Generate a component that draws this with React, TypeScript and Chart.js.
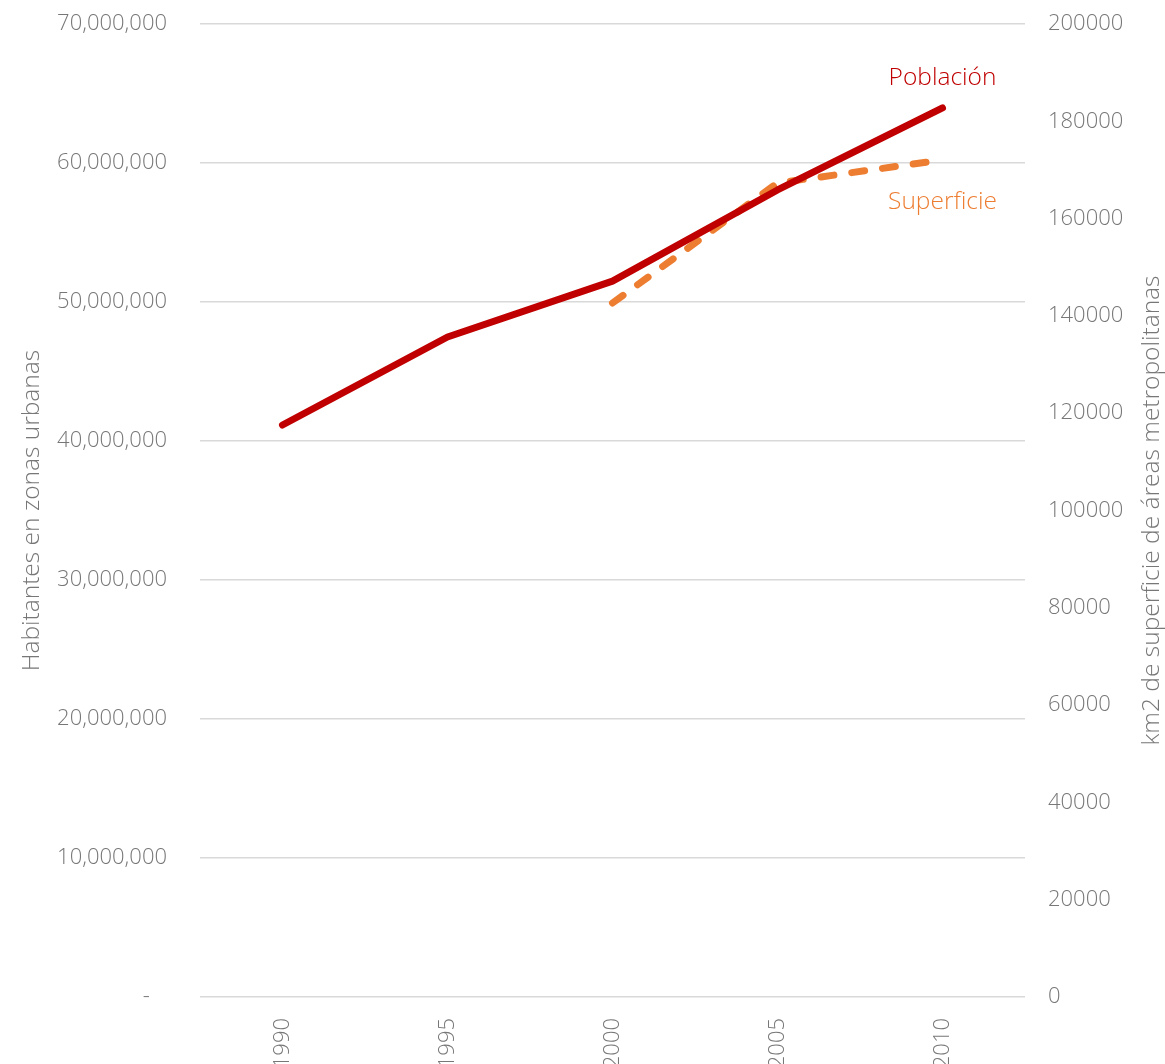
import React, { useEffect, useRef } from "react";
import { Chart, registerables } from "chart.js";

Chart.register(...registerables);

const years = ["1990", "1995", "2000", "2005", "2010"];
const poblacion = [41150000, 47480000, 51500000, 58060000, 63960000];
const superficie = [null, null, 142650, 167320, 172050];

const leftTitle = "Habitantes en zonas urbanas";
const rightTitle = "km2 de superficie de áreas metropolitanas";
const poblacionLabel = "Población";
const superficieLabel = "Superficie";

const FONT = "'Open Sans', 'Noto Sans', sans-serif";
const GRAY = "#777777";
const RED = "#C00000";
const ORANGE = "#ED7D31";

const labelsPlugin = {
  id: "customLabels",
  afterDraw(chart: any) {
    const ctx = chart.ctx;
    const area = chart.chartArea;
    const midY = (area.top + area.bottom) / 2;
    ctx.save();
    ctx.fillStyle = GRAY;
    ctx.font = `300 24.5px ${FONT}`;
    ctx.textAlign = "center";
    ctx.textBaseline = "middle";
    ctx.save();
    ctx.translate(32, midY);
    ctx.rotate(-Math.PI / 2);
    ctx.fillText(leftTitle, 0, 0);
    ctx.restore();
    ctx.save();
    ctx.translate(1152, midY);
    ctx.rotate(-Math.PI / 2);
    ctx.fillText(rightTitle, 0, 0);
    ctx.restore();

    const m0 = chart.getDatasetMeta(0);
    const m1 = chart.getDatasetMeta(1);
    const p0 = m0.data[m0.data.length - 1];
    const p1 = m1.data[m1.data.length - 1];
    ctx.font = `300 24.5px ${FONT}`;
    ctx.fillStyle = RED;
    ctx.fillText(poblacionLabel, p0.x, p0.y - 30);
    ctx.fillStyle = ORANGE;
    ctx.fillText(superficieLabel, p1.x, p1.y + 42);
    ctx.restore();
  },
};

export default function App() {
  const ref = useRef<HTMLCanvasElement>(null);
  useEffect(() => {
    document.body.style.margin = "0";
    const tickFont = { family: FONT, size: 22, weight: "300" as any };
    const chart = new Chart(ref.current as HTMLCanvasElement, {
      type: "line",
      data: {
        labels: years,
        datasets: [
          {
            label: poblacionLabel,
            data: poblacion,
            borderColor: RED,
            backgroundColor: RED,
            borderWidth: 7,
            pointRadius: 0,
            tension: 0,
            borderCapStyle: "round",
            borderJoinStyle: "round",
            yAxisID: "y",
          },
          {
            label: superficieLabel,
            data: superficie as any,
            borderColor: ORANGE,
            backgroundColor: ORANGE,
            borderWidth: 7,
            borderDash: [13, 18],
            borderCapStyle: "round",
            borderJoinStyle: "round",
            pointRadius: 0,
            tension: 0,
            yAxisID: "y1",
          },
        ],
      },
      options: {
        animation: false,
        responsive: true,
        maintainAspectRatio: false,
        layout: { padding: { top: 24, left: 0, right: 0, bottom: 0 } },
        plugins: { legend: { display: false }, tooltip: { enabled: false } },
        scales: {
          x: {
            type: "category",
            offset: true,
            grid: { display: false, drawTicks: false },
            border: { display: false },
            ticks: {
              minRotation: 90,
              maxRotation: 90,
              padding: 21,
              color: GRAY,
              font: tickFont,
            },
            afterFit(scale: any) {
              scale.height = 67;
              scale.paddingTop = 0;
              scale.paddingBottom = 0;
              scale.paddingLeft = 0;
              scale.paddingRight = 0;
            },
          },
          y: {
            position: "left",
            min: 0,
            max: 70000000,
            grid: { color: "#d9d9d9", lineWidth: 1.5, drawTicks: false },
            border: { display: false },
            ticks: {
              stepSize: 10000000,
              padding: 33,
              color: GRAY,
              font: tickFont,
              callback: (v: any) => (v === 0 ? "-   " : Number(v).toLocaleString("en-US")),
            },
            afterFit(scale: any) {
              scale.width = 200;
              scale.paddingTop = 0;
              scale.paddingBottom = 0;
            },
          },
          y1: {
            position: "right",
            min: 0,
            max: 200000,
            grid: { display: false, drawTicks: false },
            border: { display: false },
            ticks: {
              stepSize: 20000,
              padding: 23,
              color: GRAY,
              font: tickFont,
              callback: (v: any) => String(v),
            },
            afterFit(scale: any) {
              scale.width = 140;
              scale.paddingTop = 0;
              scale.paddingBottom = 0;
            },
          },
        },
      },
      plugins: [labelsPlugin],
    });
    return () => chart.destroy();
  }, []);
  return (
    <div style={{ position: "relative", width: 1165, height: 1064 }}>
      <canvas ref={ref} />
    </div>
  );
}
